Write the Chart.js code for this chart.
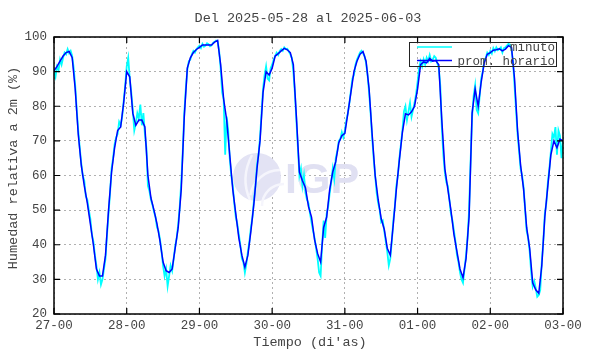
<!DOCTYPE html>
<html>
<head>
<meta charset="utf-8">
<script src="https://cdn.jsdelivr.net/npm/chart.js@4.4.1/dist/chart.umd.min.js"></script>
<style>
  html, body { margin: 0; padding: 0; background: #fff; }
</style>
</head>
<body>
<canvas id="humChart" width="590" height="354"></canvas>
<script>
// etiquetas del eje x (una por dia, cada 24 h)
const dayLabels = ['27-00', '28-00', '29-00', '30-00', '31-00', '01-00', '02-00', '03-00'];
const yTicks = [20, 30, 40, 50, 60, 70, 80, 90, 100];

// promedio horario (h 0 .. 168)
const hourly = [
  90.2, 91.5, 93, 94.5, 95.5, 95.8, 94, 85, 72, 63, 57, 52,
  46, 40, 33, 31, 31, 37, 50, 61, 68, 73, 74, 81,
  90, 88.5, 78, 74.5, 76, 76, 74, 60, 53.5, 50, 46, 41,
  35, 32.5, 32, 33, 39, 45, 56, 77, 91, 94, 95.5, 96.4,
  97, 97.7, 97.7, 97.7, 97.7, 98.5, 99, 92, 82, 76, 66, 56,
  49, 42, 37, 33.5, 37, 44, 52, 62, 70, 84, 90, 89,
  91, 94.5, 95.2, 96, 96.7, 96.3, 95.5, 92, 77, 61, 58.5, 56.5,
  51, 48, 41.5, 37.5, 35, 45, 48, 56, 61, 64, 69.5, 71.5,
  72.2, 78, 84, 90, 93, 95, 95.8, 93, 85, 72, 60, 53,
  47.5, 44.5, 39, 37, 46, 56, 64.5, 72.5, 77.8, 77.5, 78.4, 80,
  85, 92, 92.8, 92.5, 93.8, 93, 93.2, 92, 76, 62, 56, 50,
  43, 38, 33, 30.5, 36, 48, 78, 85, 80, 87, 92.5, 95,
  95.5, 96.2, 96.3, 96.6, 96, 96.5, 97.5, 97, 88, 73, 63, 56,
  45, 39, 29, 27, 26, 34, 48, 57, 66, 70, 68, 70.5,
  70
];

// datos por minuto, leidos cada media hora (t = 0, 0.5, ... 168)
const perMinute = [
  90, 88.5, 91.5, 90.5, 93.5, 92, 94, 95.5, 95, 96.5, 95.3, 96,
  94.5, 91, 86, 79, 73, 68, 63.5, 60, 58.5, 54, 53, 50,
  47.5, 43, 41, 37, 34, 30, 32, 28.5, 30, 33, 36, 43,
  49, 55, 62, 65, 69, 71, 72, 75.5, 74.5, 77, 81.5, 86,
  91.5, 94, 88, 84, 79, 73, 75, 78, 76.5, 80.5, 74.5, 78,
  72, 68, 57, 55.5, 53, 51.5, 49.5, 48, 45, 44, 41.5, 38,
  34, 31, 33, 28, 31, 34, 32.5, 36, 39.5, 42, 46, 51,
  58, 67, 78, 85, 90.5, 93, 93.5, 95, 96, 95.5, 96.5, 97,
  97.5, 96.8, 98, 97.2, 97.5, 98.2, 97.9, 97.3, 97.6, 98.3, 98.6, 99,
  98.8, 96, 91, 84, 82, 66, 77, 73, 65, 60, 57, 52,
  48, 46, 43, 40, 36, 35, 32, 34.5, 38, 41, 45, 48,
  53, 57, 63, 66, 71, 78, 85, 89, 91.5, 88, 87.5, 91,
  92, 93.5, 94.5, 95.5, 94.8, 96, 96.5, 96, 97, 96.5, 96.6, 95.8,
  95, 94, 90, 84, 76, 68, 60, 62, 57, 60, 55, 53,
  52, 49, 46.5, 44, 42, 39, 36, 32, 31, 40, 47, 42,
  49, 51, 55, 58, 62, 59, 65, 67, 70, 70.5, 72.5, 71,
  73, 76, 78, 81, 84.5, 88, 89, 92, 93.5, 94.5, 95.5, 96,
  95.3, 94.5, 92.5, 89, 84, 78, 71, 65, 60, 55, 52, 50,
  46.5, 47, 44, 41, 38, 34, 36, 41, 47, 51, 57, 60,
  65, 69, 73, 78.5, 80, 76, 78.5, 81, 77, 79, 81, 83.5,
  87, 91, 93, 91.5, 93.5, 92, 94, 93, 94.8, 93, 93.5, 94.5,
  94, 92.5, 91, 86, 74, 66, 61, 58, 57, 53, 49, 47,
  44, 41, 37, 35, 32, 30, 29, 33, 37, 42, 50, 64,
  77, 83, 86, 79, 78, 83, 88, 90, 93, 94, 95.5, 94.8,
  96, 95.2, 96.8, 95.9, 97, 96.2, 96.5, 97, 95.5, 96.8, 97, 97.5,
  98, 97.8, 96.5, 93, 86, 79, 72, 67, 62, 60, 56.5, 50,
  44, 42, 38, 32, 28, 29.5, 27.5, 25, 25.5, 27, 35, 41,
  49, 52, 58, 62, 67, 72, 71, 74, 66, 73, 71.5, 65,
  70
];

const mono = '"Liberation Mono", "DejaVu Sans Mono", monospace';
const textColor = '#444';

const gnuplotFrame = {
    id: 'gnuplotFrame',
    beforeDatasetsDraw(chart) {
        // marca de agua IGP
        const ctx = chart.ctx;
        ctx.save();
        ctx.fillStyle = '#e3e3f4';
        ctx.beginPath();
        ctx.arc(257, 177, 24, 0, Math.PI * 2);
        ctx.fill();
        ctx.strokeStyle = '#f5f5fc';
        ctx.lineWidth = 2.5;
        ctx.beginPath();
        ctx.arc(280, 200, 30, Math.PI * 1.05, Math.PI * 1.5);
        ctx.stroke();
        ctx.beginPath();
        ctx.arc(284, 206, 22, Math.PI * 1.0, Math.PI * 1.5);
        ctx.stroke();
        ctx.beginPath();
        ctx.moveTo(252, 155);
        ctx.quadraticCurveTo(240, 178, 250, 200);
        ctx.stroke();
        ctx.fillStyle = '#e0e0f2';
        ctx.font = 'bold 43px "Liberation Sans", Arial, sans-serif';
        ctx.textBaseline = 'alphabetic';
        ctx.fillText('IGP', 285, 193);
        ctx.restore();
    },
    afterDraw(chart) {
        const ctx = chart.ctx;
        const a = chart.chartArea;
        const xs = chart.scales.x;
        const ys = chart.scales.y;
        ctx.save();

        // marco
        ctx.strokeStyle = '#000';
        ctx.lineWidth = 1.5;
        ctx.strokeRect(a.left, a.top, a.right - a.left, a.bottom - a.top);

        // marcas hacia adentro en los cuatro lados
        ctx.lineWidth = 1.2;
        const tl = 6;
        ctx.beginPath();
        dayLabels.forEach((lab, i) => {
            const px = xs.getPixelForValue(i * 24);
            ctx.moveTo(px, a.bottom); ctx.lineTo(px, a.bottom - tl);
            ctx.moveTo(px, a.top); ctx.lineTo(px, a.top + tl);
        });
        yTicks.forEach(v => {
            const py = ys.getPixelForValue(v);
            ctx.moveTo(a.left, py); ctx.lineTo(a.left + tl, py);
            ctx.moveTo(a.right, py); ctx.lineTo(a.right - tl, py);
        });
        ctx.stroke();

        // leyenda
        const lx = 409, ly = 42, lw = 147, lh = 24;
        ctx.strokeStyle = '#222';
        ctx.lineWidth = 1;
        ctx.strokeRect(lx + 0.5, ly + 0.5, lw, lh);
        chart.data.datasets.forEach((ds, i) => {
            const yy = ly + 5 + i * 13.5;
            ctx.strokeStyle = ds.borderColor;
            ctx.lineWidth = Math.min(ds.borderWidth, 1.5);
            ctx.beginPath();
            ctx.moveTo(417, yy); ctx.lineTo(452, yy);
            ctx.stroke();
            ctx.fillStyle = textColor;
            ctx.font = '12.5px ' + mono;
            ctx.textAlign = 'right';
            ctx.textBaseline = 'middle';
            ctx.fillText(ds.label, 555, yy + 1);
        });

        // titulos
        ctx.fillStyle = textColor;
        ctx.textBaseline = 'middle';
        ctx.textAlign = 'center';
        ctx.font = '13.5px ' + mono;
        ctx.fillText('Del 2025-05-28 al 2025-06-03', 308, 18);
        ctx.fillText('Tiempo (di\'as)', 310, 342);
        ctx.translate(13, 168);
        ctx.rotate(-Math.PI / 2);
        ctx.fillText('Humedad relativa a 2m (%)', 0, 0);
        ctx.restore();
    }
};

new Chart(document.getElementById('humChart'), {
    type: 'line',
    data: {
        datasets: [{
            label: 'minuto',
            data: perMinute.map((v, i) => ({ x: i / 2, y: v })),
            borderColor: '#00ffff',
            borderWidth: 1.8,
            pointRadius: 0,
            order: 2
        }, {
            label: 'prom. horario',
            data: hourly.map((v, i) => ({ x: i, y: v })),
            borderColor: '#0000ff',
            borderWidth: 1.5,
            pointRadius: 0,
            order: 1
        }]
    },
    options: {
        responsive: false,
        animation: false,
        layout: { padding: { top: 37, right: 27, left: 0, bottom: 0 } },
        plugins: {
            legend: { display: false },
            tooltip: { enabled: false }
        },
        scales: {
            x: {
                type: 'linear',
                min: 0,
                max: 168,
                afterFit(s) { s.height = 40; },
                afterBuildTicks(s) { s.ticks = dayLabels.map((l, i) => ({ value: i * 24 })); },
                ticks: {
                    callback: v => dayLabels[Math.round(v / 24)],
                    font: { family: mono, size: 12.5 },
                    color: textColor,
                    padding: 4,
                    maxRotation: 0,
                    autoSkip: false
                },
                grid: { color: '#b0b0b0', drawTicks: false, lineWidth: 1 },
                border: { display: false, dash: [2, 3] }
            },
            y: {
                min: 20,
                max: 100,
                afterFit(s) { s.width = 54; },
                afterBuildTicks(s) { s.ticks = yTicks.map(v => ({ value: v })); },
                ticks: {
                    font: { family: mono, size: 12.5 },
                    color: textColor,
                    padding: 7
                },
                grid: { color: '#b0b0b0', drawTicks: false, lineWidth: 1 },
                border: { display: false, dash: [2, 3] }
            }
        }
    },
    plugins: [gnuplotFrame]
});
</script>
</body>
</html>
